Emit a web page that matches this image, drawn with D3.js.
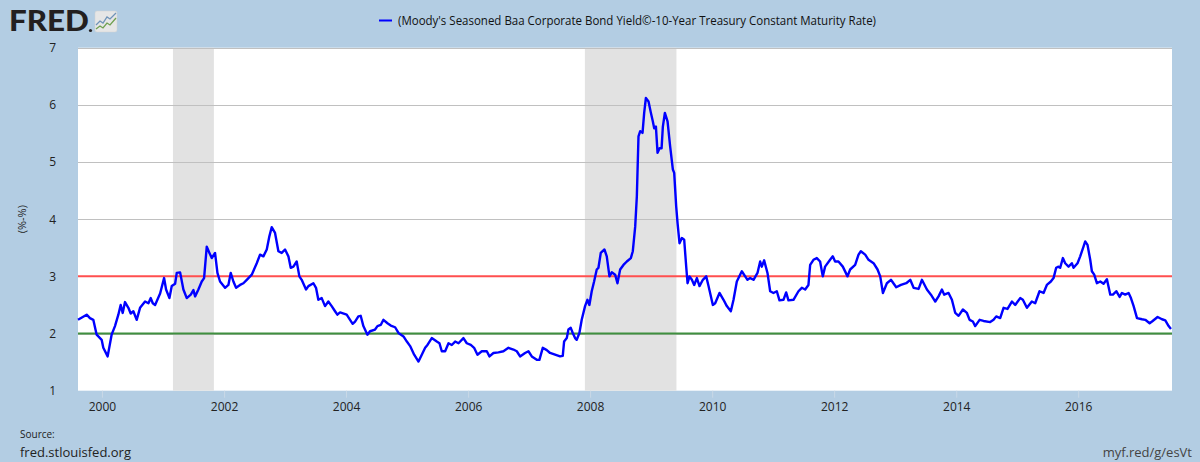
<!DOCTYPE html>
<html><head><meta charset="utf-8">
<script src="https://cdn.jsdelivr.net/npm/d3@7"></script>
<style>html,body{margin:0;padding:0;background:#b3cde3;}svg{display:block;}</style>
</head><body>
<svg id="chart" width="1200" height="462"></svg>
<script>
// decimal-year dates of each observation
const dates = [
1999.607,1999.749,1999.803,1999.858,1999.913,1999.995,2000.022,2000.093,2000.158,2000.213,2000.268,2000.306,2000.339,2000.377,2000.432,2000.470,2000.514,2000.568,2000.623,2000.705,2000.760,2000.798,2000.831,2000.869,2000.951,
2001.016,2001.049,2001.104,2001.142,2001.197,2001.224,2001.279,2001.333,2001.388,2001.454,2001.497,2001.525,2001.579,2001.634,2001.672,2001.716,2001.760,2001.798,2001.852,2001.891,2001.934,
2002.016,2002.071,2002.109,2002.153,2002.197,2002.262,2002.317,2002.372,2002.454,2002.536,2002.590,2002.645,2002.700,2002.743,2002.781,2002.836,2002.891,2002.945,
2003.000,2003.055,2003.093,2003.137,2003.191,2003.235,2003.273,2003.344,2003.383,2003.465,2003.508,2003.546,2003.601,2003.656,2003.710,2003.765,2003.820,2003.858,2003.902,
2004.011,2004.066,2004.109,2004.148,2004.202,2004.240,2004.284,2004.350,2004.393,2004.475,2004.514,2004.568,2004.612,2004.678,2004.732,2004.803,2004.858,2004.940,2004.995,
2005.049,2005.115,2005.186,2005.240,2005.295,2005.333,2005.404,2005.486,2005.530,2005.568,2005.623,2005.678,2005.732,2005.787,2005.842,2005.923,2005.978,
2006.044,2006.098,2006.153,2006.224,2006.306,2006.350,2006.415,2006.497,2006.579,2006.661,2006.743,2006.798,2006.852,2006.934,2006.989,
2007.044,2007.126,2007.169,2007.224,2007.290,2007.344,2007.426,2007.508,2007.552,2007.574,2007.618,2007.645,2007.683,2007.716,2007.754,2007.781,2007.825,2007.863,2007.918,2007.956,2007.989,
2008.027,2008.066,2008.109,2008.137,2008.175,2008.235,2008.273,2008.317,2008.355,2008.410,2008.448,2008.492,2008.546,2008.601,2008.667,2008.699,2008.738,2008.765,2008.792,2008.820,2008.858,2008.885,2008.913,2008.956,2008.995,
2009.027,2009.049,2009.077,2009.104,2009.137,2009.170,2009.191,2009.224,2009.268,2009.311,2009.355,2009.377,2009.410,2009.432,2009.464,2009.503,2009.541,2009.574,2009.596,2009.628,2009.667,2009.705,2009.749,2009.792,2009.847,2009.902,2009.940,
2010.011,2010.049,2010.120,2010.186,2010.240,2010.306,2010.350,2010.404,2010.486,2010.541,2010.579,2010.623,2010.678,2010.743,2010.787,2010.814,2010.852,2010.907,2010.951,
2011.005,2011.060,2011.104,2011.169,2011.213,2011.251,2011.333,2011.415,2011.470,2011.525,2011.579,2011.607,2011.661,2011.716,2011.770,2011.814,2011.852,2011.934,2011.978,
2012.016,2012.071,2012.142,2012.219,2012.262,2012.344,2012.399,2012.437,2012.508,2012.563,2012.645,2012.710,2012.754,2012.798,2012.863,2012.929,
2013.016,2013.093,2013.180,2013.246,2013.301,2013.383,2013.437,2013.519,2013.585,2013.656,2013.710,2013.765,2013.803,2013.874,2013.929,2013.984,
2014.038,2014.109,2014.175,2014.219,2014.273,2014.311,2014.383,2014.448,2014.557,2014.612,2014.656,2014.721,2014.776,2014.841,2014.913,2014.967,
2015.049,2015.093,2015.159,2015.240,2015.295,2015.366,2015.432,2015.486,2015.552,2015.596,2015.639,2015.678,2015.705,2015.749,2015.787,2015.842,2015.896,2015.924,2015.989,
2016.033,2016.087,2016.115,2016.153,2016.197,2016.224,2016.262,2016.306,2016.361,2016.415,2016.470,2016.525,2016.568,2016.623,2016.678,2016.716,2016.770,2016.825,2016.863,2016.907,2016.962,
2017.044,2017.098,2017.169,2017.208,2017.300,2017.372,2017.426,2017.481,2017.519
];
// spread values (%-%)
const values = [
2.24,2.33,2.27,2.24,1.98,1.89,1.75,1.60,1.98,2.13,2.33,2.50,2.36,2.55,2.45,2.35,2.39,2.24,2.45,2.56,2.53,2.62,2.53,2.50,2.70,
2.97,2.77,2.62,2.83,2.87,3.06,3.07,2.77,2.62,2.68,2.76,2.65,2.77,2.91,2.97,3.52,3.41,3.32,3.41,3.06,2.91,
2.80,2.85,3.06,2.91,2.80,2.85,2.88,2.94,3.03,3.23,3.38,3.35,3.47,3.70,3.86,3.76,3.44,3.41,
3.47,3.35,3.15,3.17,3.26,3.00,2.94,2.77,2.83,2.88,2.80,2.59,2.62,2.48,2.56,2.48,2.39,2.33,2.37,
2.33,2.24,2.17,2.21,2.30,2.31,2.13,1.98,2.04,2.07,2.13,2.15,2.24,2.18,2.14,2.11,2.01,1.95,1.86,
1.78,1.63,1.51,1.63,1.75,1.80,1.92,1.86,1.83,1.69,1.69,1.83,1.80,1.86,1.83,1.92,1.83,
1.80,1.75,1.63,1.69,1.69,1.60,1.66,1.67,1.69,1.75,1.72,1.69,1.60,1.66,1.69,
1.60,1.54,1.54,1.75,1.71,1.66,1.63,1.60,1.61,1.86,1.92,2.07,2.10,2.01,1.92,1.89,2.01,2.24,2.48,2.59,2.50,
2.74,2.91,3.12,3.15,3.41,3.47,3.35,3.00,3.07,3.03,2.88,3.12,3.20,3.26,3.32,3.44,3.87,4.40,5.45,5.54,5.51,5.86,6.12,6.06,5.86,
5.71,5.59,5.62,5.16,5.24,5.24,5.62,5.86,5.71,5.27,4.87,4.81,4.22,3.93,3.58,3.67,3.64,3.17,2.88,3.00,2.94,2.85,2.97,2.83,2.94,3.00,2.83,
2.50,2.53,2.71,2.59,2.48,2.39,2.59,2.91,3.09,3.00,2.94,2.97,2.94,3.06,3.26,3.17,3.28,3.06,2.74,
2.71,2.74,2.58,2.59,2.72,2.58,2.59,2.74,2.80,2.77,2.85,3.20,3.29,3.32,3.26,3.00,3.17,3.29,3.35,
3.26,3.26,3.17,3.00,3.12,3.20,3.38,3.44,3.38,3.29,3.23,3.12,3.00,2.71,2.88,2.94,
2.81,2.85,2.88,2.94,2.80,2.78,2.94,2.77,2.68,2.56,2.65,2.77,2.68,2.71,2.59,2.36,
2.31,2.42,2.36,2.24,2.21,2.13,2.24,2.22,2.20,2.24,2.30,2.27,2.45,2.43,2.56,2.50,
2.62,2.59,2.45,2.56,2.53,2.74,2.71,2.85,2.91,2.97,3.15,3.17,3.15,3.32,3.23,3.17,3.23,3.15,3.23,
3.35,3.52,3.61,3.55,3.29,3.09,3.03,2.88,2.91,2.87,2.95,2.68,2.68,2.74,2.64,2.71,2.68,2.71,2.62,2.48,2.27,
2.25,2.24,2.18,2.21,2.29,2.25,2.23,2.13,2.08
];
const recessionStarts = ["2001-03-01", "2007-12-01"];
const recessionEnds   = ["2001-11-01", "2009-06-01"];
const refLevels = [3, 2];
const refColors = ["#ff4f4f", "#3f8f3f"];
const yTicks = [1, 2, 3, 4, 5, 6, 7];
const xDomain = [1999.607, 2017.536];
const seriesName = "(Moody's Seasoned Baa Corporate Bond Yield\u00A9-10-Year Treasury Constant Maturity Rate)";
const yTitle = "(%-%)";

function dec(y) {
  const Y = Math.floor(y), s = Date.UTC(Y, 0, 1), e = Date.UTC(Y + 1, 0, 1);
  return new Date(s + (y - Y) * (e - s));
}
const parse = d3.utcParse("%Y-%m-%d");
const data = dates.map((d, i) => ({ date: dec(d), value: values[i] }));

const svg = d3.select("#chart");
const m = { left: 78, right: 1172, top: 47.7, bottom: 390.7 };
const x = d3.scaleUtc().domain(xDomain.map(dec)).range([m.left, m.right]);
const y = d3.scaleLinear().domain([1, 7]).range([m.bottom, m.top]);
const font = "'Open Sans', 'Noto Sans', sans-serif";

// background
svg.append("rect").attr("width", 1200).attr("height", 462).attr("fill", "#b3cde3");
svg.append("rect").attr("x", m.left).attr("y", m.top).attr("width", m.right - m.left)
  .attr("height", m.bottom - m.top).attr("fill", "#ffffff");

// recessions
svg.append("g").selectAll("rect").data(recessionStarts).join("rect")
  .attr("x", (d) => x(parse(d)))
  .attr("y", m.top)
  .attr("width", (d, i) => x(parse(recessionEnds[i])) - x(parse(d)))
  .attr("height", m.bottom - m.top)
  .attr("fill", "#e2e2e2");

// horizontal grid
svg.append("g").selectAll("line").data(yTicks.filter((t) => t > 1)).join("line")
  .attr("x1", m.left).attr("x2", m.right)
  .attr("y1", (d) => Math.round(y(d)) + 0.5).attr("y2", (d) => Math.round(y(d)) + 0.5)
  .attr("stroke", "#c0c0c0").attr("stroke-width", 1);

// x axis
const xAxis = d3.axisBottom(x).ticks(d3.utcYear.every(2)).tickFormat(d3.utcFormat("%Y")).tickSize(7).tickPadding(5);
const gx = svg.append("g").attr("transform", `translate(0,${m.bottom})`).call(xAxis);
gx.select(".domain").remove();
gx.selectAll(".tick line").attr("stroke", "#c9d8e6");
gx.selectAll(".tick text").attr("fill", "#222").style("font-family", font).style("font-size", "12px");

// y axis
const yAxis = d3.axisLeft(y).tickValues(yTicks).tickFormat(d3.format("d")).tickSize(0).tickPadding(22);
const gy = svg.append("g").attr("transform", `translate(${m.left},0)`).call(yAxis);
gy.select(".domain").remove();
gy.selectAll(".tick text").attr("fill", "#222").style("font-family", font).style("font-size", "12px");

svg.append("text").attr("transform", `translate(26,${y(4)}) rotate(-90)`)
  .attr("text-anchor", "middle").attr("fill", "#222")
  .style("font-family", font).style("font-size", "11px").text(yTitle);

// reference lines
svg.append("g").selectAll("line").data(refLevels).join("line")
  .attr("x1", m.left).attr("x2", m.right)
  .attr("y1", (d) => y(d)).attr("y2", (d) => y(d))
  .attr("stroke", (d, i) => refColors[i]).attr("stroke-width", 2);

// series
const line = d3.line().x((d) => x(d.date)).y((d) => y(d.value));
svg.append("path").datum(data).attr("d", line).attr("fill", "none")
  .attr("stroke", "#0000ff").attr("stroke-width", 2.4).attr("stroke-linejoin", "round");

// legend
svg.append("line").attr("x1", 379).attr("x2", 392).attr("y1", 20.5).attr("y2", 20.5)
  .attr("stroke", "#0000ff").attr("stroke-width", 2);
svg.append("text").attr("x", 398).attr("y", 25).attr("fill", "#111")
  .style("font-family", font).style("font-size", "12.5px").attr("textLength", 478).attr("lengthAdjust", "spacingAndGlyphs")
  .text(seriesName);

// FRED logo
svg.append("text").attr("x", 9).attr("y", 31).attr("fill", "#231f20")
  .style("font-family", "Lato, 'DejaVu Sans', sans-serif").style("font-weight", "900").style("font-size", "28px")
  .attr("textLength", 80).attr("lengthAdjust", "spacingAndGlyphs").text("FRED");
svg.append("circle").attr("cx", 90.5).attr("cy", 30.5).attr("r", 1.6).attr("fill", "#231f20");
const icon = svg.append("g").attr("transform", "translate(95,11)");
icon.append("rect").attr("width", 22).attr("height", 21).attr("rx", 2).attr("fill", "#e6e6e6").attr("stroke", "#d0d0d0").attr("stroke-width", 0.5);
icon.append("path").attr("d", "M1,14 L5,10 L8,12 L12,6 L15,8 L21,2").attr("fill", "none").attr("stroke", "#6f93b8").attr("stroke-width", 1.3);
icon.append("path").attr("d", "M1,18 L5,15 L8,17 L12,12 L15,14 L21,7").attr("fill", "none").attr("stroke", "#6fa050").attr("stroke-width", 1.3);

// footer
svg.append("text").attr("x", 20).attr("y", 438).attr("fill", "#222")
  .style("font-family", font).style("font-size", "10px").text("Source:");
svg.append("text").attr("x", 20).attr("y", 457).attr("fill", "#222")
  .style("font-family", font).style("font-size", "13px").text("fred.stlouisfed.org");
svg.append("text").attr("x", 1192).attr("y", 457).attr("text-anchor", "end").attr("fill", "#444")
  .style("font-family", font).style("font-size", "13px").text("myf.red/g/esVt");
</script>
</body></html>
